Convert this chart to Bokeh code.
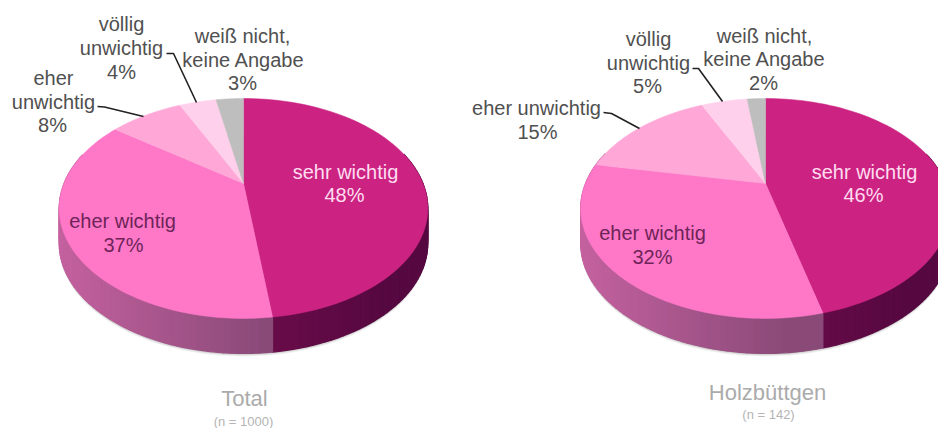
import numpy as np
from bokeh.plotting import figure
from bokeh.models import Range1d, ColumnDataSource
from bokeh.core.properties import value
from bokeh.embed import file_html
from bokeh.resources import INLINE

categories = ["sehr wichtig", "eher wichtig", "eher unwichtig", "völlig unwichtig", "weiß nicht, keine Angabe"]
total_values = [48, 37, 8, 4, 3]
holz_values = [46, 32, 15, 5, 2]
titles = ["Total", "Holzbüttgen"]
subtitles = ["(n = 1000)", "(n = 142)"]

top_colors = ["#cc2382", "#ff78c8", "#ffa8d8", "#ffd0ec", "#bebebe"]
FONT = value("Liberation Sans")

p = figure(width=938, height=428, x_range=Range1d(0, 938), y_range=Range1d(428, 0),
           output_backend="svg", toolbar_location=None, min_border=0)
p.axis.visible = False
p.grid.visible = False
p.outline_line_color = None
p.background_fill_color = "white"
p.border_fill_color = "white"

K = 0.227
A = 104.3
DEPTH = 35


def project(theta, cx, cy, bx):
    u, v = np.sin(theta), np.cos(theta)
    w = 1 + K * v
    return cx + bx * u / w, cy - A * v / w


def mix(c1, c2, t):
    t = min(max(t, 0), 1)
    a = [int(c1[i:i + 2], 16) for i in (1, 3, 5)]
    b = [int(c2[i:i + 2], 16) for i in (1, 3, 5)]
    return "#%02x%02x%02x" % tuple(round(x + (y - x) * t) for x, y in zip(a, b))


def pie(values, cx, cy, bx):
    edges = np.cumsum([0] + list(values)) / sum(values) * 2 * np.pi
    # soft shadow below the wall
    th = np.linspace(0, 2 * np.pi, 240)
    sx, sy = project(th, cx, cy, bx)
    for off, al in ((DEPTH + 3, 0.10), (DEPTH + 2, 0.15), (DEPTH + 1, 0.25)):
        p.patch(sx, sy + off, fill_color="#777777", fill_alpha=al, line_color=None)
    # side wall, built as strips to carry its shading
    xs, ys, cs = [], [], []
    for i in range(len(values)):
        n = max(int((edges[i + 1] - edges[i]) / 0.03), 1)
        t = np.linspace(edges[i], edges[i + 1], n + 1)
        for a, b in zip(t[:-1], t[1:]):
            if np.cos((a + b) / 2) > 0.3:
                continue
            x1, y1 = project(np.array([a, b]), cx, cy, bx)
            xs.append([x1[0], x1[1], x1[1], x1[0]])
            ys.append([y1[0], y1[1], y1[1] + DEPTH, y1[0] + DEPTH])
            mx = (x1[0] + x1[1]) / 2
            if i == 0:
                col = mix("#6a0c4a", "#560840", (mx - (cx + 20)) / 120)
            elif i == 1:
                col = mix("#c4619f", "#8a4a78", (mx - (cx - 185)) / 205)
            else:
                col = "#c4619f"
            cs.append(col)
    p.patches(xs, ys, fill_color=cs, line_color=cs, line_width=1.2)
    # top face
    fx, fy = [], []
    for i in range(len(values)):
        t = np.linspace(edges[i], edges[i + 1], 80)
        x1, y1 = project(t, cx, cy, bx)
        fx.append(np.r_[cx, x1].tolist())
        fy.append(np.r_[cy, y1].tolist())
    p.patches(fx, fy, fill_color=top_colors, line_color=top_colors, line_width=0.5)


pie(total_values, 243, 183, 179.5)
pie(holz_values, 765, 183, 180)

# leader lines
leaders = [
    ([97, 104, 143], [106, 106.5, 116]),
    ([166, 173, 196], [53, 53, 102]),
    ([603, 611, 639], [112, 113, 128]),
    ([692, 698, 722], [68, 68, 101]),
]
for lx, ly in leaders:
    p.line(lx, ly, line_color="#222222", line_width=1.6)

dark = "#505050"
label_rows = [
    ("völlig", 121, 23, dark), ("unwichtig", 121, 47, dark), (f"{total_values[3]}%", 121, 71, dark),
    ("weiß nicht,", 242, 35, dark), ("keine Angabe", 243, 59, dark), (f"{total_values[4]}%", 242, 82, dark),
    ("eher", 53, 77, dark), ("unwichtig", 53, 101, dark), (f"{total_values[2]}%", 52, 124, dark),
    ("sehr wichtig", 345, 171, "#ffdcf0"), (f"{total_values[0]}%", 344, 194, "#ffdcf0"),
    ("eher wichtig", 122, 220, "#6e2458"), (f"{total_values[1]}%", 123, 244, "#6e2458"),
    ("völlig", 648, 38, dark), ("unwichtig", 648, 62, dark), (f"{holz_values[3]}%", 647, 85, dark),
    ("weiß nicht,", 764, 35, dark), ("keine Angabe", 764, 58, dark), (f"{holz_values[4]}%", 763, 82, dark),
    ("eher unwichtig", 536, 107, dark), (f"{holz_values[2]}%", 537, 131, dark),
    ("sehr wichtig", 864, 171, "#ffdcf0"), (f"{holz_values[0]}%", 863, 194, "#ffdcf0"),
    ("eher wichtig", 652, 232, "#6e2458"), (f"{holz_values[1]}%", 652, 256, "#6e2458"),
]
src = ColumnDataSource(dict(text=[r[0] for r in label_rows], x=[r[1] for r in label_rows],
                            y=[r[2] for r in label_rows], c=[r[3] for r in label_rows]))
p.text(x="x", y="y", text="text", source=src, text_color="c", text_font=FONT,
       text_font_size="20px", text_align="center", text_baseline="middle")

p.text(x=[244, 767], y=[398, 392], text=titles, text_color="#ababab", text_font=FONT,
       text_font_size="22px", text_align="center", text_baseline="middle")
p.text(x=[243, 768], y=[421, 414], text=subtitles, text_color="#b4b4b4", text_font=FONT,
       text_font_size="13px", text_align="center", text_baseline="middle")

open("out.html", "w").write(file_html(p, INLINE))
